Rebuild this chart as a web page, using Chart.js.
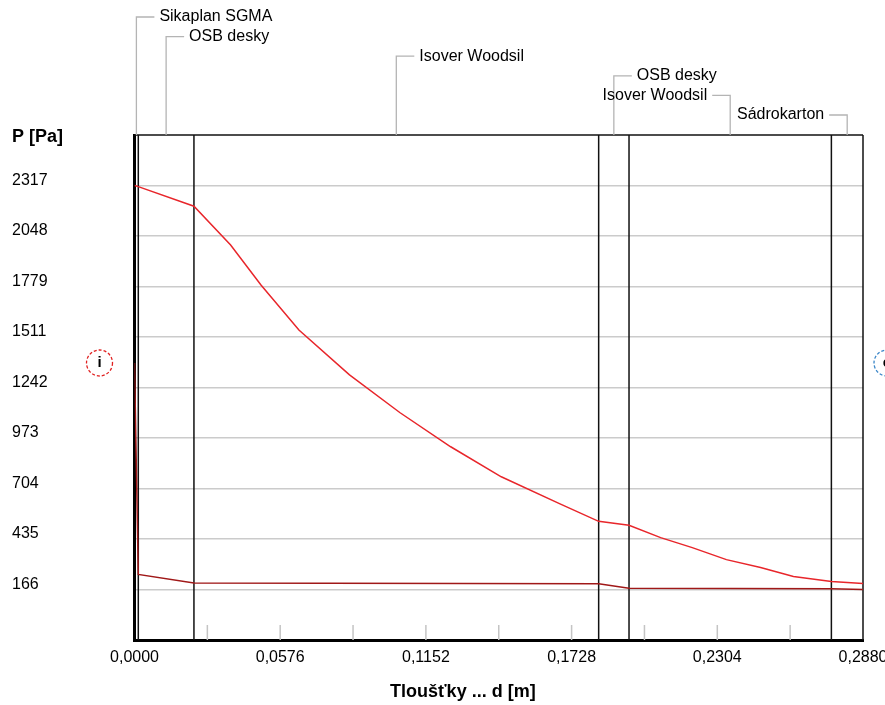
<!DOCTYPE html>
<html lang="cs">
<head>
    <meta charset="UTF-8">
    <title>Průběh tlaků vodní páry v konstrukci</title>
    <style>
        html, body {
            margin: 0;
            padding: 0;
            background-color: #fff;
        }
        #pressChart {
            display: block;
        }
    </style>
</head>
<body>
    <canvas id="pressChart" width="885" height="705"></canvas>

    <script src="https://cdn.jsdelivr.net/npm/chart.js@4"></script>
    <script>
        // skladba konstrukce od interiéru
        const layerNames = ['Sikaplan SGMA', 'OSB desky', 'Isover Woodsil', 'OSB desky', 'Isover Woodsil', 'Sádrokarton'];
        const layerThickness = [0.0015, 0.022, 0.16, 0.012, 0.08, 0.0125];

        // tlak nasycené vodní páry
        const pSatX = [0, 0.0015, 0.0235, 0.038, 0.050, 0.065, 0.085, 0.105, 0.125, 0.145, 0.168, 0.1835, 0.1955, 0.208, 0.2205, 0.234, 0.2475, 0.2605, 0.2755, 0.288];
        const pSatY = [2317, 2311, 2207, 2000, 1787, 1548, 1309, 1107, 926, 766, 623, 529, 508, 442, 389, 325, 283, 235, 209, 198];

        // částečný tlak vodní páry
        const pX = [0, 0.0015, 0.0235, 0.1835, 0.1955, 0.2755, 0.288];
        const pY = [1372, 246, 201, 197, 172, 170, 166];

        // popisky os
        const yTicks = [166, 435, 704, 973, 1242, 1511, 1779, 2048, 2317];
        const xTicks = [0, 0.0576, 0.1152, 0.1728, 0.2304, 0.288];
        const xMinorTicks = [0.0288, 0.0576, 0.0864, 0.1152, 0.144, 0.1728, 0.2016, 0.2304, 0.2592];

        const FONT = "'Liberation Sans', Arial, sans-serif";

        // hranice vrstev
        const bounds = [0];
        layerThickness.forEach(t => bounds.push(bounds[bounds.length - 1] + t));

        function line(ctx, x1, y1, x2, y2) {
            ctx.beginPath();
            ctx.moveTo(x1, y1);
            ctx.lineTo(x2, y2);
            ctx.stroke();
        }

        function marker(ctx, cx, cy, color, letter) {
            ctx.save();
            ctx.strokeStyle = color;
            ctx.lineWidth = 1.3;
            ctx.setLineDash([3, 2]);
            ctx.beginPath();
            ctx.arc(cx, cy, 13, 0, Math.PI * 2);
            ctx.stroke();
            ctx.setLineDash([]);
            ctx.fillStyle = '#000';
            ctx.font = 'bold 15px ' + FONT;
            ctx.textAlign = 'center';
            ctx.textBaseline = 'middle';
            ctx.fillText(letter, cx, cy);
            ctx.restore();
        }

        const layerPlugin = {
            id: 'layers',
            beforeDatasetsDraw(chart) {
                const { ctx, chartArea: a, scales: { x } } = chart;
                ctx.save();

                // krátké značky u spodní osy
                ctx.strokeStyle = '#c4c4c4';
                ctx.lineWidth = 1.5;
                xMinorTicks.forEach(v => {
                    const px = x.getPixelForValue(v);
                    line(ctx, px, a.bottom - 15, px, a.bottom);
                });

                // rozhraní vrstev + horní okraj
                ctx.strokeStyle = '#111';
                ctx.lineWidth = 1.5;
                bounds.slice(1).forEach(v => {
                    const px = x.getPixelForValue(v);
                    line(ctx, px, a.top, px, a.bottom);
                });
                line(ctx, a.left, a.top, a.right, a.top);
                ctx.restore();
            },
            afterDraw(chart) {
                const { ctx, chartArea: a, scales: { x, y } } = chart;
                ctx.save();
                ctx.font = '16px ' + FONT;
                ctx.textBaseline = 'middle';

                // názvy vrstev s odkazovými čarami
                layerNames.forEach((name, i) => {
                    const mid = (bounds[i] + bounds[i + 1]) / 2;
                    const px = x.getPixelForValue(mid);
                    const ly = 17 + i * 19.6;
                    const toLeft = mid / x.max > 0.75;
                    const hx = toLeft ? px - 18 : px + 18;

                    ctx.strokeStyle = '#b4b4b4';
                    ctx.lineWidth = 1.3;
                    ctx.beginPath();
                    ctx.moveTo(px, a.top);
                    ctx.lineTo(px, ly);
                    ctx.lineTo(hx, ly);
                    ctx.stroke();

                    ctx.fillStyle = '#000';
                    ctx.textAlign = toLeft ? 'right' : 'left';
                    ctx.fillText(name, toLeft ? hx - 5 : hx + 5, ly);
                });

                // názvy os
                ctx.font = 'bold 18px ' + FONT;
                ctx.textAlign = 'left';
                ctx.fillText('P [Pa]', 12, 137);
                ctx.fillText('Tloušťky ... d [m]', 390, 692);
                ctx.restore();

                // interiér / exteriér
                const my = y.getPixelForValue(pY[0]);
                marker(ctx, a.left - 35, my, '#e02020', 'i');
                marker(ctx, a.right + 24, my, '#3a86c8', 'e');
            }
        };

        const ctx = document.getElementById('pressChart').getContext('2d');

        new Chart(ctx, {
            type: 'line',
            data: {
                datasets: [
                    {
                        label: 'psat',
                        data: pSatX.map((v, i) => ({ x: v, y: pSatY[i] })),
                        borderColor: '#e8262b',
                        borderWidth: 1.5,
                        pointRadius: 0,
                        tension: 0
                    },
                    {
                        label: 'p',
                        data: pX.map((v, i) => ({ x: v, y: pY[i] })),
                        borderColor: '#a01818',
                        borderWidth: 1.5,
                        pointRadius: 0,
                        tension: 0
                    }
                ]
            },
            options: {
                responsive: false,
                animation: false,
                events: [],
                layout: {
                    padding: { left: 12, top: 135, right: 22, bottom: 0 }
                },
                plugins: {
                    legend: { display: false },
                    tooltip: { enabled: false }
                },
                scales: {
                    x: {
                        type: 'linear',
                        min: 0,
                        max: 0.288,
                        afterBuildTicks: s => { s.ticks = xTicks.map(v => ({ value: v })); },
                        afterFit: s => { s.height = 65; s.paddingLeft = 0; s.paddingRight = 0; },
                        grid: { display: false, drawTicks: false },
                        border: { color: '#000', width: 3 },
                        ticks: {
                            padding: 8,
                            color: '#000',
                            maxRotation: 0,
                            autoSkip: false,
                            font: { family: FONT, size: 16 },
                            callback: v => v.toFixed(4).replace('.', ',')
                        }
                    },
                    y: {
                        min: -103,
                        max: 2586,
                        afterBuildTicks: s => { s.ticks = yTicks.map(v => ({ value: v })); },
                        afterFit: s => { s.width = 122.5; s.paddingTop = 0; s.paddingBottom = 0; },
                        grid: { color: '#cbcbcb', lineWidth: 1.5, drawTicks: false },
                        border: { color: '#000', width: 3 },
                        ticks: {
                            crossAlign: 'far',
                            labelOffset: -5,
                            color: '#000',
                            font: { family: FONT, size: 16 },
                            callback: v => String(v)
                        }
                    }
                }
            },
            plugins: [layerPlugin]
        });
    </script>
</body>
</html>
